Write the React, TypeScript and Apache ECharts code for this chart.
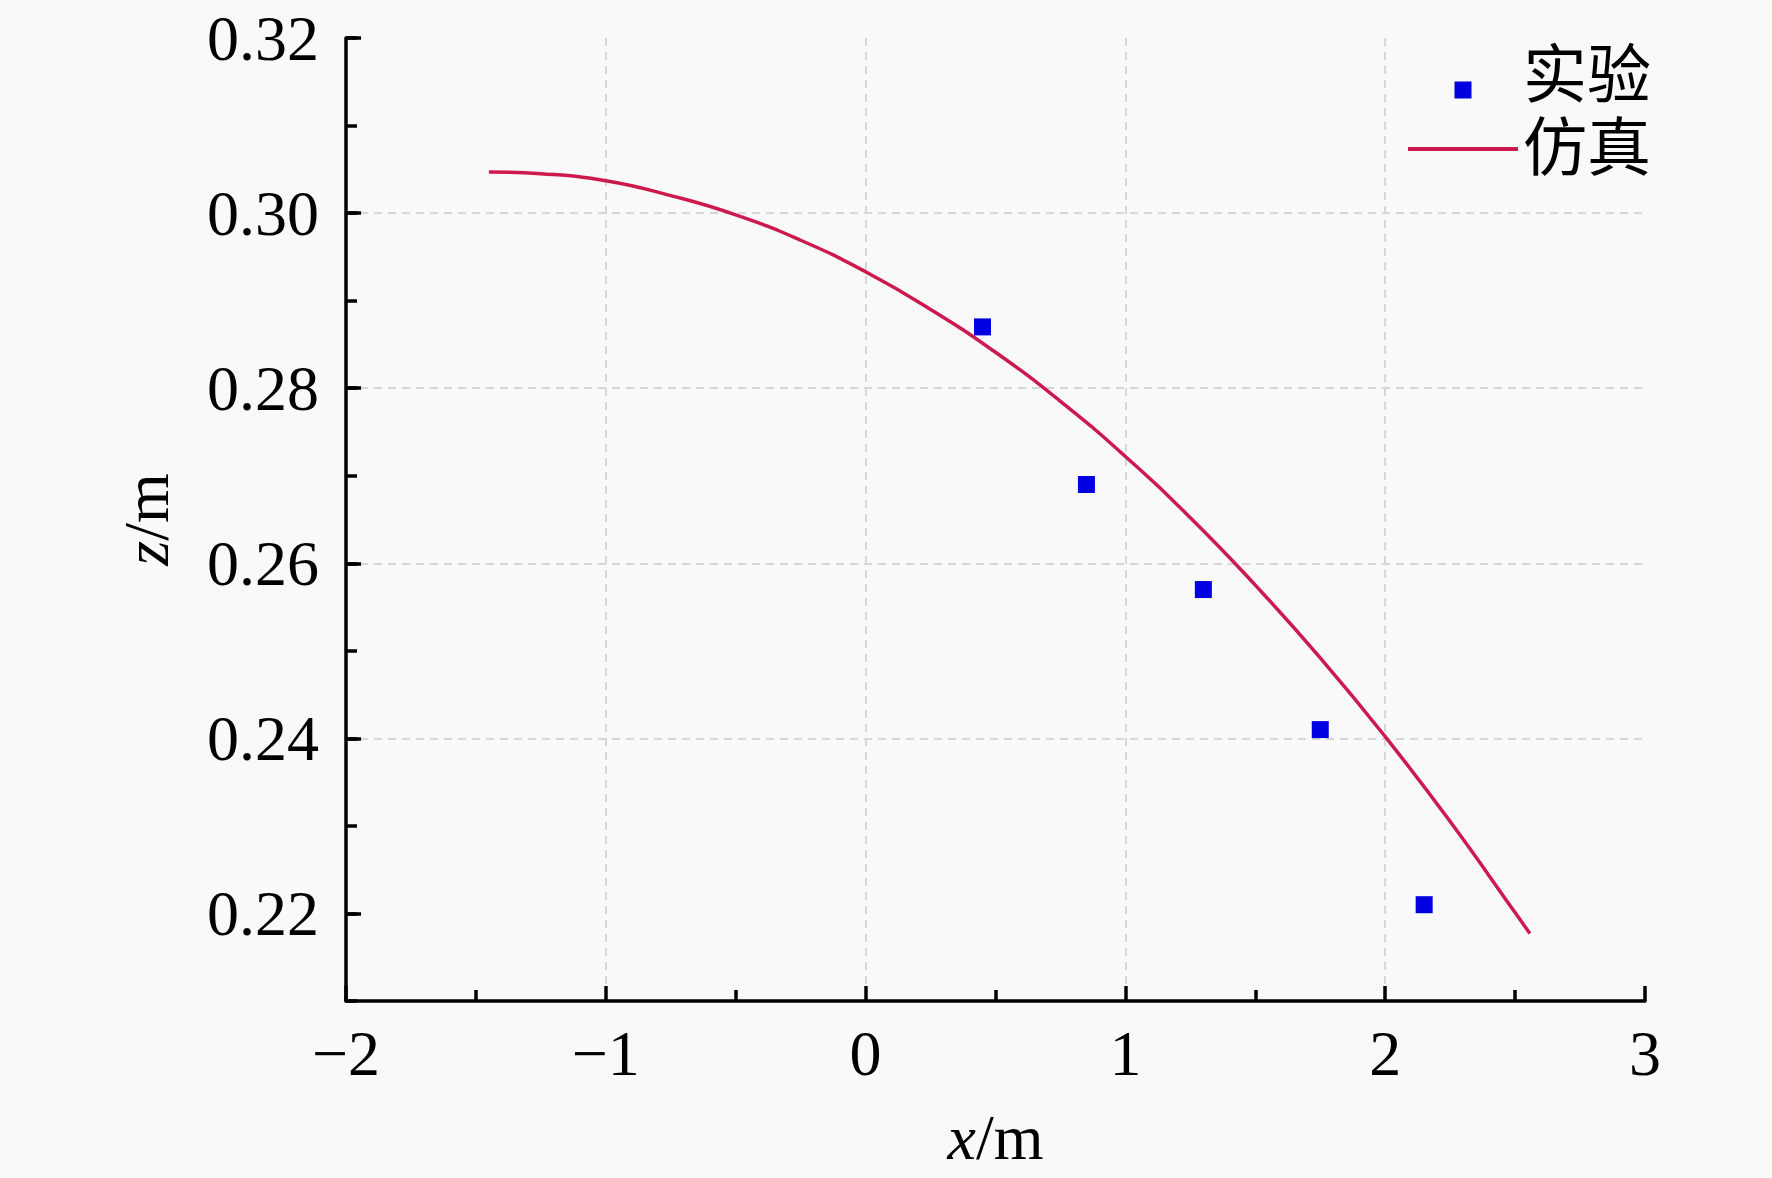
import React, { useEffect, useRef } from "react";
import * as echarts from "echarts";

// Experimental points (实验)
const expX = [0.45, 0.85, 1.3, 1.75, 2.15];
const expZ = [0.287, 0.269, 0.257, 0.241, 0.221];

// Simulation curve (仿真)
const simX = [-1.45, -1.25, -1.0, -0.75, -0.5, -0.25, 0, 0.25, 0.5, 0.75, 1.0, 1.25, 1.5, 1.75, 2.0, 2.25, 2.5, 2.557];
const simZ = [0.3047, 0.3045, 0.3037, 0.302, 0.2998, 0.2969, 0.2933, 0.289, 0.2841, 0.2785, 0.2722, 0.2652, 0.2575, 0.2492, 0.2402, 0.2305, 0.2201, 0.2177];

const yMajorTicks = [0.22, 0.24, 0.26, 0.28, 0.3, 0.32];
const seriesNames = ["实验", "仿真"];

const FONT = "'Liberation Serif', 'Times New Roman', 'Noto Sans CJK SC', serif";

export default function App() {
  const ref = useRef<HTMLDivElement>(null);
  useEffect(() => {
    if (!ref.current) return;
    const chart = echarts.init(ref.current, null, { renderer: "svg" });
    const axisLineStyle = { color: "#000", width: 3.5 };
    const gridStyle = { color: "#d6d6d6", width: 2, type: [8, 6] as any };
    const lineColor = "#cc1a4e";
    chart.setOption({
      animation: false,
      backgroundColor: "#f9f9f9",
      textStyle: { fontFamily: FONT },
      grid: { left: 346, right: 127, top: 38, bottom: 177, containLabel: false },
      legend: {
        orient: "vertical",
        left: 1408,
        top: 44,
        itemWidth: 110,
        itemHeight: 45,
        itemGap: 9,
        padding: 0,
        textStyle: { fontSize: 64, color: "#000", fontFamily: FONT },
        data: [
          { name: seriesNames[0], icon: "path://M0,-28M0,0L17,0L17,17L0,17Z" },
          {
            name: seriesNames[1],
            icon: "path://M0,0L110,0L110,4L0,4Z",
            itemStyle: { color: lineColor, borderWidth: 0 },
          },
        ],
      },
      xAxis: {
        type: "value",
        min: -2,
        max: 3,
        interval: 1,
        name: "{i|x}/m",
        nameLocation: "middle",
        nameGap: 104,
        nameTextStyle: {
          fontSize: 64,
          color: "#000",
          fontFamily: FONT,
          rich: { i: { fontSize: 64, fontStyle: "italic", fontFamily: FONT, color: "#000" } },
        },
        axisLine: { show: true, onZero: false, lineStyle: axisLineStyle },
        axisTick: { show: true, inside: true, length: 15, lineStyle: axisLineStyle },
        minorTick: { show: true, splitNumber: 2, length: 11, lineStyle: { color: "#000", width: 3.5 } },
        axisLabel: {
          fontSize: 64,
          color: "#000",
          fontFamily: FONT,
          margin: 20,
          formatter: (v: number) => (v < 0 ? "\u2212" + Math.abs(v) : String(v)),
        },
        splitLine: { show: true, showMinLine: false, showMaxLine: false, lineStyle: gridStyle },
      },
      yAxis: [
        {
          type: "value",
          min: 0.21,
          max: 0.32,
          position: "left",
          name: "{i|z}/m",
          nameLocation: "middle",
          nameGap: 168,
          nameTextStyle: {
            fontSize: 64,
            color: "#000",
            fontFamily: FONT,
            rich: { i: { fontSize: 64, fontStyle: "italic", fontFamily: FONT, color: "#000" } },
          },
          axisLine: { show: true, onZero: false, lineStyle: axisLineStyle },
          axisTick: { show: true, inside: true, length: 15, lineStyle: axisLineStyle, customValues: yMajorTicks },
          axisLabel: {
            customValues: yMajorTicks,
            fontSize: 64,
            color: "#000",
            fontFamily: FONT,
            margin: 27,
            padding: [0, 0, 12, 0],
            formatter: (v: number) => v.toFixed(2),
          },
          splitLine: { show: true, showMinLine: false, showMaxLine: false, lineStyle: gridStyle },
        },
        {
          type: "value",
          min: 0.21,
          max: 0.32,
          interval: 0.01,
          position: "left",
          offset: 0,
          axisLine: { show: false, onZero: false },
          axisTick: { show: true, inside: true, length: 11, lineStyle: axisLineStyle },
          axisLabel: { show: false },
          splitLine: { show: false },
        },
      ],
      series: [
        {
          name: seriesNames[1],
          type: "line",
          data: simX.map((x, i) => [x, simZ[i]]),
          smooth: true,
          symbol: "none",
          lineStyle: { color: lineColor, width: 3.5 },
          itemStyle: { color: lineColor },
          z: 2,
        },
        {
          name: seriesNames[0],
          type: "scatter",
          data: expX.map((x, i) => [x, expZ[i]]),
          symbol: "rect",
          symbolSize: 17,
          itemStyle: { color: "#0000e0", opacity: 1 },
          z: 3,
        },
      ],
    });
    return () => chart.dispose();
  }, []);
  return (
    <div
      ref={ref}
      style={{ position: "absolute", left: 0, top: 0, width: 1772, height: 1178 }}
    />
  );
}
